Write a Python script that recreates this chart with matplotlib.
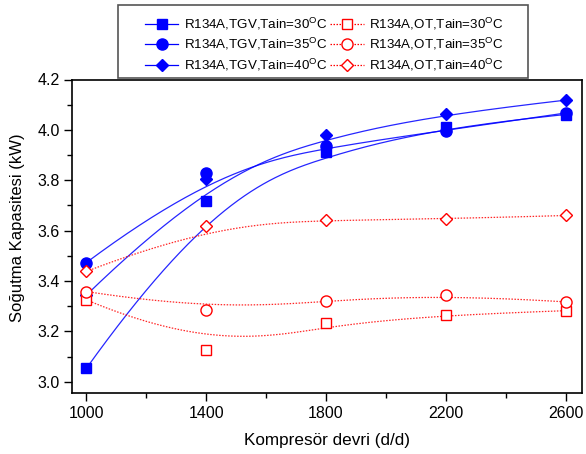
import numpy as np
import matplotlib
matplotlib.use("Agg")
import matplotlib.pyplot as plt
from matplotlib.lines import Line2D
from matplotlib.patches import Rectangle

plt.rcParams['font.family'] = ['Liberation Sans', 'DejaVu Sans']
plt.rcParams['mathtext.fontset'] = 'custom'
plt.rcParams['mathtext.rm'] = 'Liberation Sans'
plt.rcParams['mathtext.it'] = 'Liberation Sans'

# ---- data ----
rpm = [1000, 1400, 1800, 2200, 2600]
tgv_30 = [3.053, 3.717, 3.911, 4.012, 4.061]
tgv_35 = [3.473, 3.827, 3.937, 3.997, 4.067]
tgv_40 = [3.344, 3.805, 3.981, 4.063, 4.118]
ot_30 = [3.325, 3.126, 3.232, 3.265, 3.282]
ot_35 = [3.358, 3.285, 3.322, 3.346, 3.317]
ot_40 = [3.438, 3.620, 3.644, 3.646, 3.660]

labels = [
    r'R134A,TGV,Tain=30$^{\mathrm{O}}$C', r'R134A,TGV,Tain=35$^{\mathrm{O}}$C', r'R134A,TGV,Tain=40$^{\mathrm{O}}$C',
    r'R134A,OT,Tain=30$^{\mathrm{O}}$C', r'R134A,OT,Tain=35$^{\mathrm{O}}$C', r'R134A,OT,Tain=40$^{\mathrm{O}}$C',
]
x_ticks = [1000, 1400, 1800, 2200, 2600]
y_ticks = [3.0, 3.2, 3.4, 3.6, 3.8, 4.0, 4.2]


def bspline(xs, ys, n=200, k=3):
    """Clamped uniform B-spline using data points as control points."""
    P = np.column_stack([xs, ys]).astype(float)
    m = len(P)
    inner = np.linspace(0, 1, m - k + 1)
    knots = np.concatenate([[0] * k, inner, [1] * k])
    u = np.linspace(0, 1, n)
    u[-1] = 1 - 1e-12

    def N(i, p, t):
        if p == 0:
            return ((knots[i] <= t) & (t < knots[i + 1])).astype(float)
        a = 0.0
        d1 = knots[i + p] - knots[i]
        d2 = knots[i + p + 1] - knots[i + 1]
        if d1 > 0:
            a = a + (t - knots[i]) / d1 * N(i, p - 1, t)
        if d2 > 0:
            a = a + (knots[i + p + 1] - t) / d2 * N(i + 1, p - 1, t)
        return a

    C = np.zeros((n, 2))
    for i in range(m):
        C += N(i, k, u)[:, None] * P[i]
    return C[:, 0], C[:, 1]


fig = plt.figure(figsize=(5.86, 4.54), dpi=100)
ax = fig.add_axes([72 / 586, 1 - 393.3 / 454, (581.7 - 72) / 586, (393.3 - 79.5) / 454])

blue = '#0000ff'
red = '#ff0000'
series = [
    (tgv_30, blue, 's', True), (tgv_35, blue, 'o', True), (tgv_40, blue, 'D', True),
    (ot_30, red, 's', False), (ot_35, red, 'o', False), (ot_40, red, 'D', False),
]
msize = {'s': 7, 'o': 8, 'D': 6.5}
handles = []
for (ys, c, mk, filled), lab in zip(series, labels):
    cx, cy = bspline(rpm, ys)
    ls = '-' if filled else (0, (1.2, 1.2))
    ax.plot(cx, cy, color=c, lw=0.9, ls=ls, alpha=0.85, zorder=2)
    fc = c if filled else 'white'
    ax.plot(rpm, ys, ls='none', marker=mk, ms=msize[mk], mfc=fc, mec=c, mew=1.0, zorder=3)
    handles.append(Line2D([], [], color=c, lw=0.9, ls=ls, marker=mk, ms=msize[mk],
                          mfc=fc, mec=c, mew=1.0))

ax.set_xlim(952, 2654)
ax.set_ylim(2.954, 4.2)
ax.set_xticks(x_ticks)
ax.set_xticks([1200, 1600, 2000, 2400], minor=True)
ax.set_yticks(y_ticks)
ax.set_yticks([3.1, 3.3, 3.5, 3.7, 3.9, 4.1], minor=True)
ax.set_yticklabels([f'{v:.1f}' for v in y_ticks])
ax.tick_params(which='major', direction='out', length=6, width=1, labelsize=11.5, pad=3)
ax.tick_params(which='minor', direction='out', length=3.5, width=1)
ax.tick_params(top=False, right=False, which='both')
for s in ax.spines.values():
    s.set_linewidth(1.2)

ax.set_xlabel('Kompresör devri (d/d)', fontsize=12.3, labelpad=9)
ax.set_ylabel('Soğutma Kapasitesi (kW)', fontsize=12)
ax.yaxis.set_label_coords(-0.0916, 0.527)

# legend frame
fig.patches.append(Rectangle((118 / 586, 1 - 78 / 454), 410 / 586, 73 / 454,
                             transform=fig.transFigure, fill=True, facecolor='white',
                             edgecolor='#555555', lw=1.2, zorder=5))
leg = fig.legend(handles, labels, loc='center', bbox_to_anchor=(0.553, 0.9026),
                 bbox_transform=fig.transFigure, ncol=2, frameon=False, fontsize=9.6,
                 handlelength=2.5, handletextpad=0.4, columnspacing=0.25,
                 labelspacing=0.33, numpoints=1, borderpad=0)
leg.set_zorder(6)

fig.savefig('out.png', dpi=100)
